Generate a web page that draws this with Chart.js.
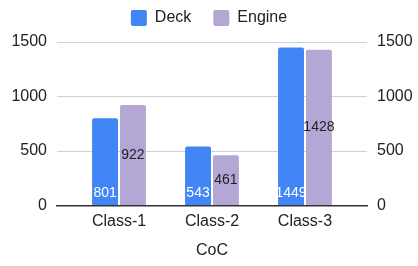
<!DOCTYPE html>
<html>
<head>
<meta charset="utf-8">
<script src="https://cdn.jsdelivr.net/npm/chart.js@4/dist/chart.umd.min.js"></script>
<style>
  html, body { margin: 0; padding: 0; background: #fff; }
  #wrap { width: 418px; height: 266px; }
</style>
</head>
<body>
<div id="wrap"><canvas id="c" width="418" height="266"></canvas></div>
<script>
'use strict';

/* ── Data ─────────────────────────────── */
const categories = ['Class-1', 'Class-2', 'Class-3'];
const deckValues = [801, 543, 1449];
const engineValues = [922, 461, 1428];
const yTicks = [0, 500, 1000, 1500];

const FONT = '"Liberation Sans", Arial, sans-serif';

// x is a linear axis so the grid can run past the outer groups
const xPoints = vals => vals.map((v, i) => ({ x: i, y: v }));

/* ── Value labels: Deck at bar foot, Engine at bar middle ── */
const valueLabels = {
  id: 'valueLabels',
  afterDatasetsDraw(chart) {
    const ctx = chart.ctx;
    ctx.save();
    ctx.font = '14px ' + FONT;
    ctx.textAlign = 'center';
    ctx.textBaseline = 'middle';
    chart.data.datasets.forEach((ds, i) => {
      const meta = chart.getDatasetMeta(i);
      meta.data.forEach((bar, j) => {
        const v = ds.data[j].y;
        if (i === 0) {
          ctx.fillStyle = '#ffffff';
          ctx.fillText(String(v), bar.x, bar.base - 12);
        } else {
          ctx.fillStyle = '#222222';
          ctx.fillText(String(v), bar.x, (bar.y + bar.base) / 2);
        }
      });
    });
    ctx.restore();
  }
};

/* ── Extra room under the legend ── */
const legendGap = {
  id: 'legendGap',
  beforeInit(chart) {
    const lg = chart.legend;
    if (!lg) return;
    const fit = lg.fit;
    lg.fit = function () { fit.call(this); this.height += 6; };
  }
};

const tickFont = { family: FONT, size: 16 };

new Chart(document.getElementById('c'), {
  type: 'bar',
  data: {
    datasets: [
      { label: 'Deck', data: xPoints(deckValues), backgroundColor: '#4285F4',
        borderRadius: { topLeft: 2, topRight: 2 }, borderSkipped: 'bottom' },
      { label: 'Engine', data: xPoints(engineValues), backgroundColor: '#B4A7D6',
        borderRadius: { topLeft: 2, topRight: 2 }, borderSkipped: 'bottom' }
    ]
  },
  options: {
    responsive: false,
    animation: false,
    devicePixelRatio: 1,
    layout: { padding: { top: -12, bottom: 6, left: 0, right: 0 } },
    datasets: { bar: { categoryPercentage: 0.6, barPercentage: 0.93 } },
    plugins: {
      legend: {
        position: 'top',
        labels: {
          font: { family: FONT, size: 16 },
          color: '#222',
          boxWidth: 16, boxHeight: 16,
          useBorderRadius: true, borderRadius: 2,
          padding: 22
        }
      },
      tooltip: { enabled: false }
    },
    scales: {
      x: {
        type: 'linear',
        offset: false,
        min: -0.667, max: 2.667,
        afterBuildTicks: s => { s.ticks = categories.map((c, i) => ({ value: i })); },
        grid: { display: false, drawTicks: false, offset: false },
        border: { display: true, color: '#333', width: 1.5 },
        ticks: { font: tickFont, color: '#222', padding: 6, autoSkip: false, maxRotation: 0,
                 callback: v => categories[v] },
        title: { display: true, text: 'CoC', font: { family: FONT, size: 16 }, color: '#222',
                 padding: { top: 4, bottom: 0 } }
      },
      y: {
        position: 'left',
        min: 0, max: 1500,
        afterBuildTicks: s => { s.ticks = yTicks.map(v => ({ value: v })); },
        afterFit: s => { s.width = 57; },
        grid: { color: ctx => ctx.tick && ctx.tick.value === 0 ? '#333' : '#d0d0d0', drawTicks: false },
        border: { display: false },
        ticks: { font: tickFont, color: '#222', padding: 10, callback: v => String(v) }
      },
      y2: {
        position: 'right',
        min: 0, max: 1500,
        afterBuildTicks: s => { s.ticks = yTicks.map(v => ({ value: v })); },
        afterFit: s => { s.width = 51; },
        grid: { display: false, drawTicks: false },
        border: { display: false },
        ticks: { font: tickFont, color: '#222', padding: 10, callback: v => String(v) }
      }
    }
  },
  plugins: [valueLabels, legendGap]
});
</script>
</body>
</html>
